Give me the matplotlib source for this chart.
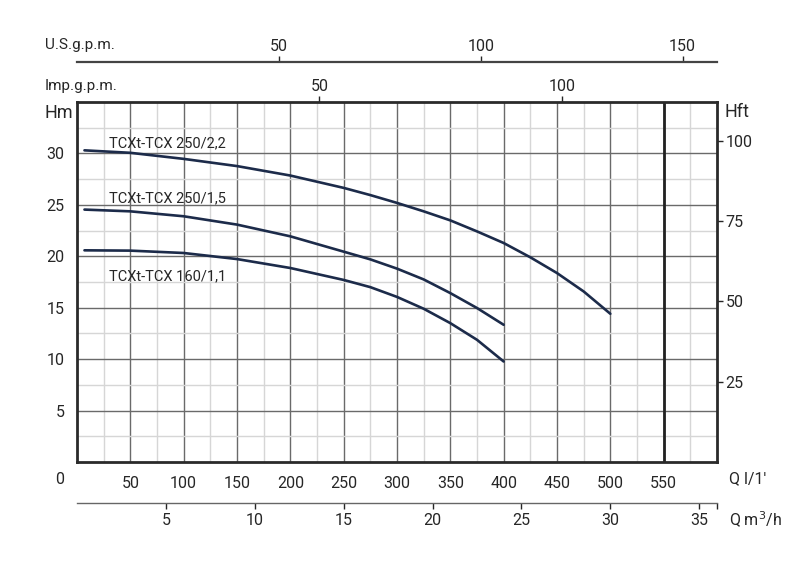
import numpy as np
import matplotlib
matplotlib.use("Agg")
import matplotlib.pyplot as plt

# flow in l/min, head in m
q_222 = [7, 50, 100, 150, 200, 250, 275, 300, 325, 350, 375, 400, 425, 450, 475, 500]
h_222 = [30.3, 30.06, 29.47, 28.77, 27.85, 26.65, 25.95, 25.19, 24.37, 23.49, 22.42, 21.29, 19.9, 18.37, 16.58, 14.41]

q_215 = [7, 50, 100, 150, 200, 250, 275, 300, 325, 350, 375, 400]
h_215 = [24.54, 24.37, 23.89, 23.08, 21.94, 20.45, 19.7, 18.8, 17.75, 16.42, 14.97, 13.34]

q_111 = [7, 50, 100, 150, 200, 250, 275, 300, 325, 350, 375, 400]
h_111 = [20.58, 20.55, 20.32, 19.73, 18.86, 17.7, 17.0, 16.05, 14.9, 13.5, 11.88, 9.77]

curve_names = ["TCXt-TCX 250/2,2", "TCXt-TCX 250/1,5", "TCXt-TCX 160/1,1"]
curve_label_pos = [(30, 31.0), (30, 25.6), (30, 18.1)]

q_ticks = list(range(50, 551, 50))
h_ticks = [5, 10, 15, 20, 25, 30]
hft_ticks = [25, 50, 75, 100]
imp_ticks = [50, 100]
us_ticks = [50, 100, 150]
m3h_ticks = [5, 10, 15, 20, 25, 30, 35, 36]
m3h_labels = ["5", "10", "15", "20", "25", "30", "35", ""]

FT_PER_M = 3.2
L_PER_IMP = 4.546
L_PER_US = 3.785

plt.rcParams['font.family'] = ['Roboto', 'DejaVu Sans']
txt = '#262626'
line_col = '#1c2b4a'

fig = plt.figure(figsize=(8, 5.63), dpi=100)
ax = fig.add_axes([77/800, 1-462/563, 640/800, 360/563])
ax.set_xlim(0, 600)
ax.set_ylim(0, 35)

ax.set_xticks(q_ticks)
ax.set_xticklabels([str(t) for t in q_ticks])
ax.set_xticks(np.arange(25, 600, 50), minor=True)
ax.set_yticks(h_ticks)
ax.set_yticklabels([str(t) for t in h_ticks])
ax.set_yticks(np.arange(2.5, 35, 5), minor=True)
ax.tick_params(which='both', length=0, labelsize=11.5, colors=txt)
ax.tick_params(axis='x', pad=10)
ax.tick_params(axis='y', pad=9)
ax.grid(which='major', color='#6a6a6a', lw=1)
ax.grid(which='minor', color='#d6d6d6', lw=1)
ax.set_axisbelow(True)
ax.axvline(550, color='#222222', lw=2)
for s in ax.spines.values():
	s.set_linewidth(2)
	s.set_color('#2a2a2a')

for q, h in [(q_222, h_222), (q_215, h_215), (q_111, h_111)]:
	ax.plot(q, h, color=line_col, lw=1.9, solid_capstyle='round', solid_joinstyle='round')
for name, (x, y) in zip(curve_names, curve_label_pos):
	ax.text(x, y, name, fontsize=10.5, color=txt, va='center', ha='left')

# feet on the right
axr = ax.secondary_yaxis('right', functions=(lambda m: m*FT_PER_M, lambda f: f/FT_PER_M))
axr.set_yticks(hft_ticks)
axr.tick_params(length=4, width=1, labelsize=11.5, colors=txt, pad=2)
axr.spines['right'].set_visible(False)

# imperial gallons on top spine
axi = ax.secondary_xaxis('top', functions=(lambda l: l/L_PER_IMP, lambda g: g*L_PER_IMP))
axi.set_xticks(imp_ticks)
axi.tick_params(length=4, width=1, labelsize=11.5, colors=txt, pad=2)
axi.spines['top'].set_visible(False)

# US gallons line above
axu = ax.secondary_xaxis(1 + 40/360, functions=(lambda l: l/L_PER_US, lambda g: g*L_PER_US))
axu.set_xticks(us_ticks)
axu.tick_params(length=4, width=1, labelsize=11.5, colors=txt, pad=2)
axu.spines['top'].set_linewidth(1.6)
axu.spines['top'].set_color('#444444')

# m3/h line below
axm = ax.secondary_xaxis(-41/360, functions=(lambda l: l*0.06, lambda m: m/0.06))
axm.set_xticks(m3h_ticks)
axm.set_xticklabels(m3h_labels)
axm.tick_params(length=4, width=1, labelsize=11.5, colors=txt, pad=3)
axm.spines['bottom'].set_linewidth(1)
axm.spines['bottom'].set_color('#666666')

fig.text(45/800, 1-45/563, "U.S.g.p.m.", fontsize=11, color=txt, va='center', ha='left')
fig.text(45/800, 1-86/563, "Imp.g.p.m.", fontsize=11, color=txt, va='center', ha='left')
fig.text(45/800, 1-113/563, "Hm", fontsize=13, color=txt, va='center', ha='left')
fig.text(725/800, 1-112/563, "Hft", fontsize=13, color=txt, va='center', ha='left')
fig.text(60/800, 1-479/563, "0", fontsize=11.5, color=txt, va='center', ha='center')
fig.text(729/800, 1-479/563, "Q l/1'", fontsize=11.5, color=txt, va='center', ha='left')
fig.text(729/800, 1-520/563, "Q m$^3$/h", fontsize=11.5, color=txt, va='center', ha='left')

fig.savefig("out.png", dpi=100, facecolor='white')
